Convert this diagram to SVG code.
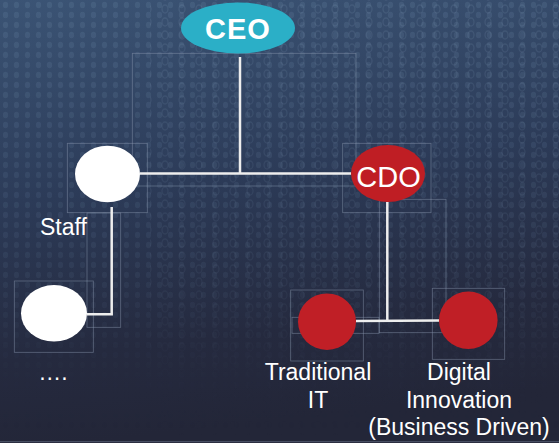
<svg xmlns="http://www.w3.org/2000/svg" width="559" height="443" viewBox="0 0 559 443">
<defs>
<linearGradient id="bg" x1="0" y1="0" x2="0.15" y2="1">
<stop offset="0" stop-color="#3b5475"/>
<stop offset="0.45" stop-color="#2c3b58"/>
<stop offset="0.8" stop-color="#252a3f"/>
<stop offset="1" stop-color="#232638"/>
</linearGradient>
<linearGradient id="fade" x1="0" y1="0" x2="0" y2="1">
<stop offset="0" stop-color="#fff" stop-opacity="0.9"/>
<stop offset="0.6" stop-color="#fff" stop-opacity="0.5"/>
<stop offset="0.85" stop-color="#fff" stop-opacity="0.05"/>
<stop offset="1" stop-color="#fff" stop-opacity="0"/>
</linearGradient>
<mask id="m"><rect width="559" height="443" fill="url(#fade)"/></mask>
<pattern id="rain" width="11" height="10" patternUnits="userSpaceOnUse">
<ellipse cx="5.5" cy="5" rx="2.6" ry="3.2" fill="#7a95b3"/>
</pattern>
<pattern id="rain2" width="17" height="13" patternUnits="userSpaceOnUse" x="4" y="3">
<ellipse cx="8" cy="6" rx="3" ry="4" fill="none" stroke="#8aa3bf" stroke-width="1.3"/>
</pattern>
</defs>
<style>
.conn{fill:none;stroke:#eeeeee;stroke-width:2.5}
.box{fill:none;stroke:#8c9ab0;stroke-width:0.8;stroke-opacity:0.55}
.lbl{font-family:"Liberation Sans",Arial,sans-serif;font-size:23px;fill:#ffffff;text-anchor:middle}
</style>
<rect width="559" height="443" fill="url(#bg)"/>
<g mask="url(#m)">
<rect width="559" height="443" fill="url(#rain)" opacity="0.2"/>
<rect x="150" width="409" height="443" fill="url(#rain2)" opacity="0.17"/>
</g>
<g id="frames">
<rect class="box" x="132.3" y="53.3" width="223.7" height="132.7"/>
<rect class="box" x="67.3" y="143.3" width="80" height="69.4"/>
<rect class="box" x="342.7" y="143.3" width="88.3" height="69.4"/>
<rect class="box" x="379.3" y="199.3" width="66.7" height="133.4"/>
<rect class="box" x="290.7" y="290" width="72.6" height="71"/>
<rect class="box" x="292" y="317.3" width="87" height="16"/>
<rect class="box" x="432.3" y="288.3" width="72.4" height="71"/>
<rect class="box" x="14.3" y="281" width="79" height="71.3"/>
<rect class="box" x="87" y="213" width="33.7" height="114.3"/>
<line class="box" x1="0" y1="441.7" x2="559" y2="441.7"/>
</g>
<g id="connectors">
<polyline class="conn" points="240,57 240,173.5"/>
<polyline class="conn" points="140,173.5 351,173.5"/>
<polyline class="conn" points="111.7,207 111.7,314.3 87,314.3"/>
<polyline class="conn" points="387.3,202 387.3,320.5"/>
<polyline class="conn" points="356,321 439,320.5"/>
</g>
<g id="ceo">
<ellipse cx="238" cy="28" rx="57" ry="25.5" fill="#2bafc7"/>
<text class="lbl" x="238" y="39" style="font-size:29px;font-weight:bold;letter-spacing:1px">CEO</text>
</g>
<g id="staff">
<ellipse cx="107.5" cy="174" rx="32.5" ry="28.3" fill="#ffffff"/>
<text class="lbl" x="40" y="235" style="text-anchor:start">Staff</text>
</g>
<g id="cdo">
<ellipse cx="388" cy="173.5" rx="37" ry="28.5" fill="#bf1e24"/>
<text class="lbl" x="388.5" y="186.5" style="font-size:29px">CDO</text>
</g>
<g id="sub">
<ellipse cx="54" cy="313.3" rx="33" ry="28.3" fill="#ffffff"/>
<text class="lbl" x="53" y="380">….</text>
</g>
<g id="traditional">
<ellipse cx="327" cy="321.7" rx="29" ry="28.3" fill="#c01f26"/>
<text class="lbl" x="318" y="380">Traditional</text>
<text class="lbl" x="318" y="408">IT</text>
</g>
<g id="digital">
<ellipse cx="468.3" cy="320.3" rx="29.3" ry="28.7" fill="#c01f26"/>
<text class="lbl" x="459" y="380">Digital</text>
<text class="lbl" x="459" y="408">Innovation</text>
<text class="lbl" x="459" y="435">(Business Driven)</text>
</g>
</svg>
